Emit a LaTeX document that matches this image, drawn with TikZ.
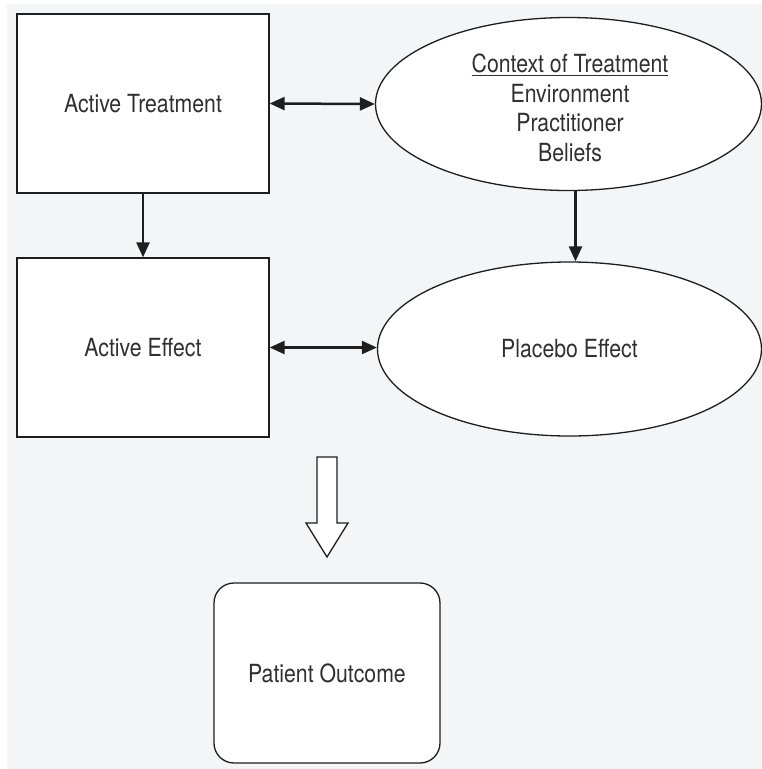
\documentclass[tikz,border=0pt]{standalone}
\usepackage{fontspec}
\setmainfont[FakeStretch=0.85]{TeX Gyre Heros}
\usetikzlibrary{shapes.geometric,arrows.meta}
\definecolor{bg}{HTML}{F4F5F7}
\definecolor{ink}{HTML}{1E1E1E}
\definecolor{txt}{HTML}{303030}
\begin{document}
\begin{tikzpicture}[x=1pt,y=-1pt,
  every node/.style={font=\fontsize{25}{29.5}\selectfont, text=txt},
  sqbox/.style={draw=ink, line width=1.3pt, fill=white, minimum width=252pt, minimum height=179pt, inner sep=0pt},
  oval/.style={draw=ink, line width=1.3pt, fill=white, ellipse, inner sep=0pt},
  conn/.style={draw=ink, line width=2.5pt, -{Triangle[length=15pt,width=13pt]}},
  dconn/.style={draw=ink, line width=2.5pt, {Triangle[length=15pt,width=13pt]}-{Triangle[length=15pt,width=13pt]}},
  outbox/.style={draw=ink, line width=1.3pt, fill=white, rounded corners=20pt, minimum width=226pt, minimum height=180pt, inner sep=0pt}]
\useasboundingbox (0,0) rectangle (762,769);
\fill[white] (0,0) rectangle (762,769);
\fill[bg] (7,4) rectangle (762,769);

\node[sqbox] (at) at (143,103.5) {Active Treatment};
\node[oval, minimum width=386pt, minimum height=173pt] (ctx) at (568.5,104) {};
\node[align=center] (ctxt) at (570,108) {\underline{Context of Treatment}\\Environment\\Practitioner\\Beliefs};
\node[sqbox] (ae) at (143,347.5) {Active Effect};
\node[oval, minimum width=384pt, minimum height=174pt] (pe) at (569.5,349) {Placebo Effect};
\node[outbox] (po) at (327,673) {Patient Outcome};

\draw[dconn] (at.east) -- (ctx.west);
\draw[dconn] (ae.east) -- (pe.west |- ae.east);
\draw[conn] (at.south) -- (ae.north);
\draw[conn] ([xshift=7pt]ctx.south) -- ([xshift=6pt]pe.north);

\coordinate (tip) at (327,557);
\draw[ink, line width=1.3pt, fill=white, line join=miter]
  (317,457) -- (337,457) -- (337,523) -- (348,523) -- (tip) -- (306,523) -- (317,523) -- cycle;
\end{tikzpicture}
\end{document}
